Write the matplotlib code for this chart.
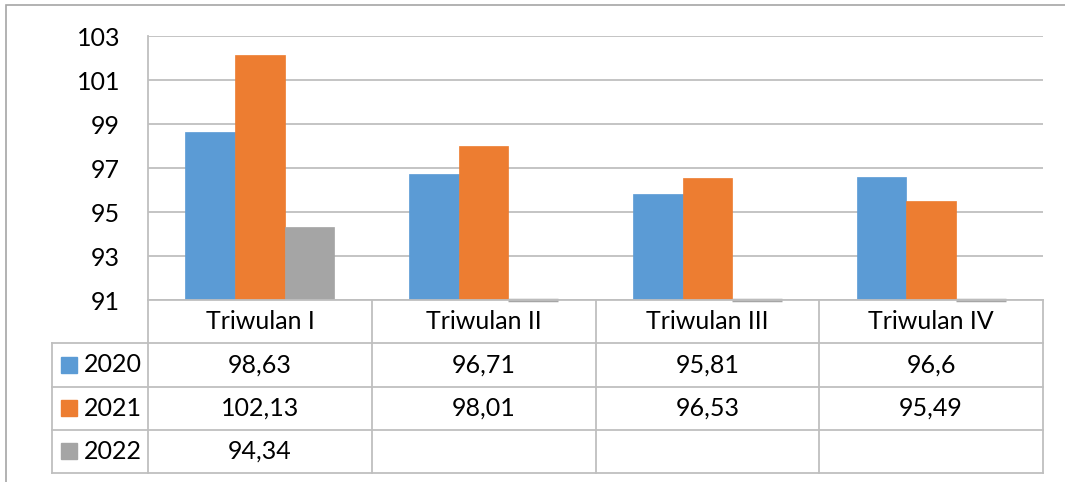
import numpy as np
import matplotlib.pyplot as plt
from matplotlib.patches import Rectangle

plt.rcParams['font.family'] = ['Lato', 'DejaVu Sans']

# data
categories = ["Triwulan I", "Triwulan II", "Triwulan III", "Triwulan IV"]
years = ["2020", "2021", "2022"]
v2020 = [98.63, 96.71, 95.81, 96.6]
v2021 = [102.13, 98.01, 96.53, 95.49]
v2022 = [94.34, None, None, None]
series = [v2020, v2021, v2022]
colors = ["#5B9BD5", "#ED7D31", "#A5A5A5"]
ymin, ymax = 91, 103
grid_c = "#BFBFBF"
fs = 18

W, H = 1065, 482
fig = plt.figure(figsize=(W / 100, H / 100), dpi=100)

# outer chart border
fig.patches.append(Rectangle((6 / W, -0.5), 2, (H - 5) / H + 0.5, transform=fig.transFigure,
                             fill=False, edgecolor="#A6A6A6", lw=1.2))

# plot area (pixels: x 148-1043, y 36-300)
ax = fig.add_axes([148 / W, (H - 300) / H, (1043 - 148) / W, (300 - 36) / H])
x = np.arange(len(categories))
bw = 1 / 4.5
for i, (vals, c) in enumerate(zip(series, colors)):
    h = [0 if v is None else v - ymin for v in vals]
    pos = x + (i - 1) * bw
    ax.bar(pos, h, bw, bottom=ymin, color=c, edgecolor=c, lw=0.5, zorder=3)
    for p, v in zip(pos, vals):
        if v is None:
            ax.plot([p - bw / 2, p + bw / 2], [ymin, ymin], color=c, lw=2.5,
                    solid_capstyle='butt', clip_on=False, zorder=4)

ax.set_xlim(-0.5, len(categories) - 0.5)
ax.set_ylim(ymin, ymax)
ax.set_yticks(range(ymin, ymax + 1, 2))
ax.yaxis.grid(True, color=grid_c, lw=1.3)
ax.set_axisbelow(True)
ax.set_xticks([])
ax.tick_params(axis='y', length=0, pad=20, labelsize=fs)
for s in ["top", "right", "bottom"]:
    ax.spines[s].set_visible(False)
ax.spines["left"].set_color(grid_c)
ax.spines["left"].set_linewidth(1.3)

# data table (pixels: x 52-1043, y 300-473)
tax = fig.add_axes([52 / W, (H - 473) / H, (1043 - 52) / W, (473 - 300) / H])
px = lambda p: -0.5 + (p - 148) / 223.75
tax.set_xlim(px(52), px(1043))
tax.set_ylim(4, 0)
tax.axis("off")
lk = dict(color=grid_c, lw=1.3, clip_on=False)
tax.plot([-0.5, 3.5], [0, 0], **lk)
for r in range(1, 5):
    tax.plot([px(52), 3.5], [r, r], **lk)
tax.plot([px(52), px(52)], [1, 4], **lk)
for cx in np.arange(-0.5, 4, 1):
    tax.plot([cx, cx], [0, 4], **lk)

for j, cat in enumerate(categories):
    tax.text(j, 0.5, cat, ha="center", va="center", fontsize=fs)
for i, (yr, vals, c) in enumerate(zip(years, series, colors)):
    r = i + 1.5
    tax.plot(px(69), r, marker="s", ms=11, color=c, clip_on=False)
    tax.text(px(84), r, yr, ha="left", va="center", fontsize=fs)
    for j, v in enumerate(vals):
        if v is not None:
            tax.text(j, r, f"{v:g}".replace(".", ","), ha="center", va="center", fontsize=fs)

fig.savefig("out.png", dpi=100)
